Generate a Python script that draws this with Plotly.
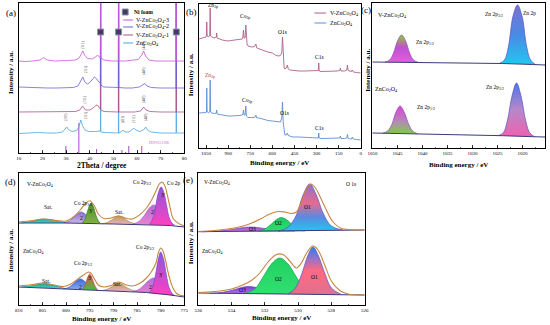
import plotly.graph_objects as go

W, H = 550, 325
FONT = "Liberation Serif"

# ======================= (a) XRD =======================
a_x_v3 = [10, 13, 16, 19, 20.5, 22, 25, 28, 31, 34, 35.5, 36.5, 37.1, 37.8, 39, 41, 42.5, 43.3, 44.0, 44.52, 44.6, 44.68, 46, 49, 52.12, 52.2, 52.28, 55, 58, 60.5, 62, 62.8, 63.6, 65, 68, 72, 76.52, 76.6, 76.68, 78, 80]
a_y_v3 = [92, 91.5, 92, 93, 95.5, 93, 92, 92, 92.5, 93, 95, 99, 102, 98, 94.5, 94, 96, 98, 96, 95, 260, 95, 93, 92, 92, 260, 92, 92, 92.5, 93.5, 98, 102, 97, 93, 92, 92, 92, 260, 92, 92, 92]
a_x_v2 = [10, 14, 18, 22, 26, 30, 33, 35, 36.3, 37.1, 37.9, 39, 40, 41, 42, 43, 43.8, 44.52, 44.6, 44.68, 46, 49, 52.12, 52.2, 52.28, 55, 58, 61, 62.5, 63.3, 64.2, 66, 70, 74, 76.52, 76.6, 76.68, 80]
a_y_v2 = [66, 65.5, 65, 65, 65, 65, 65.5, 67, 72, 76, 71, 69, 70.5, 73, 76, 74, 71, 70, 260, 68, 66, 65.5, 65.5, 260, 65.5, 65, 65, 66, 68.5, 69.5, 67, 65.5, 65, 65, 65, 260, 65, 65]
a_x_v1 = [10, 15, 20, 25, 30, 34, 35.8, 37.0, 38.2, 40, 41.5, 42.5, 43.2, 44.0, 44.52, 44.6, 44.68, 46, 49, 52.12, 52.2, 52.28, 55, 59, 61.5, 62.8, 63.8, 65.5, 70, 76.52, 76.6, 76.68, 80]
a_y_v1 = [41, 41, 41, 41, 41, 41.5, 43, 47, 43, 43, 45, 47.5, 48, 45, 44, 260, 43, 41.5, 41, 41, 260, 41, 41, 41, 42, 46, 43, 41.5, 41, 41, 260, 41, 41]
a_x_z = [10, 14, 18, 22, 26, 28.5, 29.6, 30.3, 31, 32.5, 34.5, 35.4, 36.2, 37.0, 38, 39.5, 42, 44.0, 44.52, 44.6, 44.68, 46, 49, 52.12, 52.2, 52.28, 53.2, 54, 54.8, 56.5, 57.8, 58.6, 59.4, 61, 62.7, 63.7, 64.6, 66, 70, 74, 76.52, 76.6, 76.68, 80]
a_y_z = [19.5, 20, 20.5, 20, 20, 21, 24, 26, 23.5, 21.5, 22.5, 26, 33, 27, 23, 21.5, 21.5, 22, 22, 260, 21, 20.5, 20, 20, 260, 20, 21, 23, 21, 21, 23, 25, 23, 21.5, 23, 26, 22.5, 21, 20, 20, 20, 260, 20, 20]
a_pdf_pos = [29.9, 35.4, 42.9, 53.6, 56.5, 62.0]
a_pdf_h = [7, 30, 4, 3, 7, 7]
a_ni_pos = [44.6, 52.2, 76.6]
a_ni_y = [121, 121, 121]
a_hkl_text = ["(311)", "(440)", "(311)", "(440)", "(311)", "(440)", "(220)", "(311)", "(422)", "(511)", "(440)"]
a_hkl_x = [37.1, 62.8, 38.5, 63.0, 38.2, 63.0, 30.0, 38.5, 54.2, 58.6, 63.9]
a_hkl_y = [108, 107, 84, 82, 54, 54, 36, 38, 34, 34, 36]
a_xticks = [10, 20, 30, 40, 50, 60, 70, 80]

# ======================= (b) survey =======================
b_x = [1100, 1080, 1060, 1050, 1047, 1045, 1043, 1035, 1025, 1022, 1019, 1010, 995, 980, 978, 975, 960, 940, 920, 900, 880, 860, 840, 820, 805, 800, 796, 792, 785, 780, 776, 772, 765, 740, 720, 712, 705, 690, 670, 650, 630, 600, 580, 560, 545, 536, 531, 526, 520, 515, 505, 498, 492, 480, 460, 420, 380, 340, 300, 288, 285, 282, 270, 240, 200, 160, 142, 138, 134, 110, 95, 90, 86, 70, 62, 58, 50, 30, 15, 0]
b_y_v = [109, 109.5, 110, 111, 113, 126, 113, 111, 112, 140, 112, 111, 110, 111, 115, 110, 109, 108, 107.5, 107, 107.5, 108, 108, 109, 109, 111, 118, 110, 110, 123, 108, 104, 102, 101, 101.5, 104, 100, 99, 98, 97, 96, 95, 93, 92, 92.5, 95, 111, 92, 80, 79, 80, 83, 79, 78, 77.5, 77, 77, 77, 77, 77.5, 85, 77, 76.5, 76.5, 76.5, 77, 77.5, 80, 77, 77, 78, 83, 77.5, 76.5, 76.5, 78, 76, 75.5, 75, 75]
b_y_z = [35, 35, 35, 35.5, 37, 60, 37, 35, 36, 68, 36, 35, 34.5, 35, 38, 34, 33.5, 33, 32.5, 32, 32, 32, 32, 32.5, 33, 34, 38, 33, 33, 42, 32, 31, 30.5, 30.5, 30.5, 33, 30, 30, 29, 28, 27.5, 27, 26.5, 26, 26, 30, 46, 25, 14, 13, 13, 15, 12.5, 12, 11, 11, 10.5, 10, 10, 10, 15, 10, 9.5, 9.5, 9.5, 9.5, 10, 12, 9.5, 9.5, 10, 13.5, 9.5, 9, 9, 11, 9, 8.5, 8, 8]
b_xticks = [1050, 900, 750, 600, 450, 300, 150, 0]

# ======================= (c) Zn 2p =======================
c_t_base_x = [1050, 1040, 1030, 1024, 1018, 1015.5]
c_t_base_y = [86, 85.6, 85, 84.5, 83.5, 83]
c_t_p1_x = [1047.6, 1046.6, 1045.8, 1045.1, 1044.2, 1043.3, 1042.6, 1041.8, 1040.8]
c_t_p1_y = [85.8, 88, 95, 106, 113, 106, 95, 88, 85.6]
c_t_p3_x = [1024.6, 1023.6, 1022.8, 1021.9, 1021.0, 1020.1, 1019.2, 1018.4, 1017.4]
c_t_p3_y = [84.7, 88, 102, 132, 143, 132, 102, 88, 83.4]
c_b_base_x = [1050, 1040, 1030, 1024, 1018, 1015.5]
c_b_base_y = [15, 14.2, 13.2, 12.3, 11.3, 11]
c_b_p1_x = [1048, 1047, 1046.1, 1045.4, 1044.5, 1043.6, 1042.8, 1042, 1041]
c_b_p1_y = [14.8, 17, 24, 35, 42, 35, 24, 17, 14.2]
c_b_p3_x = [1024.8, 1023.8, 1023, 1022.1, 1021.2, 1020.3, 1019.4, 1018.6, 1017.6]
c_b_p3_y = [12.4, 15.5, 28, 52, 65, 52, 28, 15.5, 11.3]
c_xticks = [1050, 1045, 1040, 1035, 1030, 1025, 1020]

# ======================= (d) Co 2p =======================
d_t_base_x = [810, 800, 790, 783, 778, 775]
d_t_base_y = [82, 82, 81, 80.5, 79.5, 78]
d_t_sat1_x = [809.5, 807.5, 806, 804.5, 803, 801.5, 799.5]
d_t_sat1_y = [82, 83.5, 85.2, 86, 85.2, 83.5, 82]
d_t_co2a_x = [800.5, 799.3, 798.3, 797.5, 796.8, 796.1, 795.3, 794.3, 793]
d_t_co2a_y = [82, 84, 88, 91.5, 93, 91.5, 88, 84, 81.8]
d_t_co3a_x = [796.6, 796.0, 795.5, 795.1, 794.7, 794.3, 793.9, 793.4, 792.8]
d_t_co3a_y = [81.8, 86, 93, 99, 102, 99, 93, 86, 81.8]
d_t_sat2_x = [792.5, 791.3, 790.2, 789.5, 788.8, 788.1, 787.4, 786.3, 785]
d_t_sat2_y = [81, 82.5, 85.5, 88, 89, 88, 85.5, 82.5, 81]
d_t_co2b_x = [786, 784.6, 783.4, 782.4, 781.5, 780.6, 779.6, 778.4, 777]
d_t_co2b_y = [80.8, 83.5, 90, 97, 100, 97, 90, 83.5, 79.8]
d_t_co3b_x = [782.4, 781.7, 781.1, 780.5, 779.9, 779.3, 778.7, 778.1, 777.3]
d_t_co3b_y = [80.3, 86, 98, 112, 118, 112, 98, 86, 79.8]
d_t_env_x = [810, 807, 805, 802, 800, 798.5, 797, 796, 795, 794, 793.2, 792, 790.5, 789, 787.5, 786, 784.5, 783, 781.8, 781, 780.3, 779.8, 779.2, 778.6, 778, 777.3, 776, 775]
d_t_env_y = [83, 84.5, 86, 84.5, 84, 88, 95, 101, 104.3, 99, 91, 86.5, 87, 89, 87, 86, 90, 97, 106, 114, 121, 123, 120, 110, 97, 86, 81, 79]

d_b_base_x = [810, 800, 790, 783, 778, 775]
d_b_base_y = [18, 16, 14, 12.5, 10, 8]
d_b_sat1_x = [809.5, 807.5, 806, 804.8, 803.5, 802, 800]
d_b_sat1_y = [17.9, 19.2, 20.8, 21.5, 20.8, 19, 16.2]
d_b_co2a_x = [800.6, 799.5, 798.5, 797.7, 797, 796.3, 795.5, 794.5, 793.3]
d_b_co2a_y = [16, 17.5, 21, 24.5, 26, 24.5, 21, 17.5, 15]
d_b_co3a_x = [796.6, 796.1, 795.7, 795.3, 795, 794.7, 794.3, 793.9, 793.4]
d_b_co3a_y = [15.5, 19, 24, 29, 31, 29, 24, 19, 15]
d_b_sat2_x = [792.5, 791.3, 790.3, 789.6, 789, 788.3, 787.5, 786.5, 785.2]
d_b_sat2_y = [14.3, 15.8, 18.5, 21, 22, 21, 18.5, 15.8, 13.6]
d_b_co2b_x = [786, 784.6, 783.4, 782.4, 781.5, 780.6, 779.6, 778.4, 777]
d_b_co2b_y = [13.4, 15.5, 20.5, 25, 27, 25, 20.5, 14.5, 9.5]
d_b_co3b_x = [782.4, 781.7, 781.1, 780.5, 780, 779.4, 778.8, 778.2, 777.4]
d_b_co3b_y = [12.2, 18, 30, 46, 53, 46, 30, 17, 9.4]
d_b_env_x = [810, 807, 805, 802.5, 800.5, 799, 797.5, 796.3, 795.2, 794.6, 794, 793.2, 792, 790.5, 789, 787.5, 786, 784.5, 783, 782, 781, 780.5, 780, 779.5, 779, 778.3, 777.5, 776.5, 775]
d_b_env_y = [19, 20.5, 22, 20, 18.5, 21, 26, 30, 33, 31, 26, 20, 18, 19.5, 23, 20.5, 19, 21.5, 27, 33, 42, 52, 57, 54, 45, 30, 18, 11, 9]
d_xticks = [810, 805, 800, 795, 790, 785, 780, 775]

# ======================= (e) O 1s =======================
e_t_base_x = [536, 526]
e_t_base_y = [73.3, 75]
e_t_o3_x = [535.8, 534.8, 534, 533.4, 532.9, 532.3, 531.7, 531, 530.2]
e_t_o3_y = [73.2, 74, 75.5, 77.2, 78, 77.2, 75.5, 74.3, 73.8]
e_t_o2_x = [532.4, 532, 531.6, 531.3, 531.0, 530.7, 530.4, 530, 529.6]
e_t_o2_y = [73.6, 76, 81, 85.5, 87.5, 85.5, 81, 76, 73.8]
e_t_o1_x = [531.2, 530.6, 530.1, 529.7, 529.3, 528.9, 528.5, 528, 527.3]
e_t_o1_y = [73.6, 78, 90, 110, 121, 110, 92, 79, 74.8]
e_t_env_x = [536, 535, 534, 533.3, 532.7, 532.2, 531.7, 531.2, 530.8, 530.4, 530.1, 529.8, 529.5, 529.25, 529, 528.7, 528.3, 527.9, 527.4, 527, 526]
e_t_env_y = [73.5, 74.5, 76.5, 79, 82.5, 86.5, 91, 93.5, 93, 91.5, 93, 103, 116, 121, 118, 109, 95, 83, 76.5, 75.5, 75]

e_b_base_x = [536, 526]
e_b_base_y = [12, 10]
e_b_o3_x = [535.3, 534.5, 533.9, 533.4, 533, 532.5, 532, 531.5, 530.8]
e_b_o3_y = [11.5, 12.8, 15, 17.5, 18.5, 17.5, 15, 13, 11.3]
e_b_o2_x = [533.2, 532.6, 532.1, 531.6, 531.1, 530.6, 530.1, 529.6, 529]
e_b_o2_y = [11.4, 16, 28, 41, 47, 41, 28, 16, 11]
e_b_o1_x = [530.6, 530.2, 529.8, 529.4, 529.1, 528.8, 528.4, 528, 527.4]
e_b_o1_y = [11.1, 16, 30, 50, 58, 50, 32, 17, 10.5]
e_b_env_x = [536, 535, 534, 533.4, 532.8, 532.3, 531.8, 531.3, 530.9, 530.5, 530.1, 529.8, 529.45, 529.1, 528.8, 528.4, 528, 527.5, 527, 526]
e_b_env_y = [12.5, 13.5, 16, 19.5, 24.5, 32, 43, 50.5, 50.5, 44, 37, 42, 53, 59, 55, 40, 24, 14.5, 11, 10]
e_xticks = [536, 534, 532, 530, 528, 526]

# ======================= figure =======================
AX = {"a": "", "b": "2", "c": "3", "d": "4", "e": "5"}
fig = go.Figure()


def line(x, y, p, color, width=0.9, shape="linear"):
    fig.add_trace(go.Scatter(x=x, y=y, xaxis="x" + AX[p], yaxis="y" + AX[p], mode="lines",
                             line=dict(color=color, width=width, shape=shape, smoothing=1),
                             hoverinfo="skip", showlegend=False))


def filled(x, y, p, scale, color):
    fig.add_trace(go.Scatter(x=x, y=y, xaxis="x" + AX[p], yaxis="y" + AX[p], mode="lines",
                             fill="toself", fillgradient=dict(type="vertical", colorscale=scale),
                             line=dict(color=color, width=0.7, shape="spline", smoothing=1),
                             hoverinfo="skip", showlegend=False))


# (a)
C_V3, C_V2, C_V1, C_Z = "#c458d6", "#6b62d8", "#b0508e", "#4ba3e3"
sx, sy = [], []
for p, h in zip(a_pdf_pos, a_pdf_h):
    sx += [p, p, None]
    sy += [0, h, None]
line(sx, sy, "a", "#9b35c8", 0.9)
line(a_x_z, a_y_z, "a", C_Z, 0.8)
line(a_x_v1, a_y_v1, "a", C_V1, 0.8)
line(a_x_v2, a_y_v2, "a", C_V2, 0.8)
line(a_x_v3, a_y_v3, "a", C_V3, 0.8)
fig.add_trace(go.Scatter(x=a_ni_pos, y=a_ni_y, mode="markers", xaxis="x", yaxis="y",
                         marker=dict(symbol="square", size=6, color="#3e3e5e",
                                     line=dict(color="#9090b0", width=1)),
                         hoverinfo="skip", showlegend=False))

# (b)
line(b_x, b_y_z, "b", "#5b8fd6")
line(b_x, b_y_v, "b", "#b0608a")

# (c)
NAVY = "#3a3a78"
filled(c_t_p1_x, c_t_p1_y, "c", [[0, "#e060e0"], [0.55, "#c050d0"], [1, "#8fcc2a"]], "#8a4ab8")
filled(c_t_p3_x, c_t_p3_y, "c", [[0, "#20c8f0"], [0.5, "#4a8ae6"], [1, "#8070d0"]], "#5a50c0")
line(c_t_base_x, c_t_base_y, "c", NAVY, 1.0)
filled(c_b_p1_x, c_b_p1_y, "c", [[0, "#7ccc44"], [0.4, "#b090b0"], [1, "#e040e0"]], "#8a4ab8")
filled(c_b_p3_x, c_b_p3_y, "c", [[0, "#f060b0"], [0.5, "#b888c8"], [1, "#4a78e8"]], "#5a50c0")
line(c_b_base_x, c_b_base_y, "c", NAVY, 1.0)

# (d)
ENV = "#c8843e"
g = globals()
for pre in ("t", "b"):
    filled(g[f"d_{pre}_sat1_x"], g[f"d_{pre}_sat1_y"], "d", [[0, "#30e0e0"], [1, "#3a9a70"]], "#3a9a80")
    filled(g[f"d_{pre}_sat2_x"], g[f"d_{pre}_sat2_y"], "d", [[0, "#e8b0c8"], [1, "#b8a050"]], "#a89050")
    filled(g[f"d_{pre}_co2b_x"], g[f"d_{pre}_co2b_y"], "d", [[0, "#f080d0"], [1, "#b070d8"]], "#a060c0")
    filled(g[f"d_{pre}_co3b_x"], g[f"d_{pre}_co3b_y"], "d", [[0, "#ff40c0"], [1, "#8a58e0"]], "#7a48c8")
filled(d_t_co2a_x, d_t_co2a_y, "d", [[0, "#c8b8e8"], [1, "#8a70d0"]], "#6a58c0")
filled(d_t_co3a_x, d_t_co3a_y, "d", [[0, "#80b040"], [1, "#4a9030"]], "#3a7a28")
filled(d_b_co2a_x, d_b_co2a_y, "d", [[0, "#8ab0f0"], [1, "#3a68e0"]], "#3050c0")
filled(d_b_co3a_x, d_b_co3a_y, "d", [[0, "#40c040"], [1, "#e85050"]], "#c04040")
line(d_t_base_x, d_t_base_y, "d", NAVY, 1.0)
line(d_b_base_x, d_b_base_y, "d", NAVY, 1.0)
line(d_t_env_x, d_t_env_y, "d", ENV, 1.1, "spline")
line(d_b_env_x, d_b_env_y, "d", ENV, 1.1, "spline")

# (e)
filled(e_t_o3_x, e_t_o3_y, "e", [[0, "#e070d0"], [1, "#8a5ad0"]], "#7a4ac0")
filled(e_t_o2_x, e_t_o2_y, "e", [[0, "#2ae070"], [1, "#20c860"]], "#18a050")
filled(e_t_o1_x, e_t_o1_y, "e", [[0, "#20c8f0"], [0.3, "#5a8ae0"], [0.6, "#e86a90"], [1, "#8a74c8"]], "#5a50c0")
filled(e_b_o3_x, e_b_o3_y, "e", [[0, "#b070e0"], [1, "#7a40d8"]], "#6a38c0")
filled(e_b_o2_x, e_b_o2_y, "e", [[0, "#30e070"], [1, "#20d060"]], "#18a050")
filled(e_b_o1_x, e_b_o1_y, "e", [[0, "#e07090"], [0.5, "#ff6a80"], [0.75, "#9a70c8"], [1, "#2a80f0"]], "#5a50c0")
line(e_t_base_x, e_t_base_y, "e", NAVY, 1.0)
line(e_b_base_x, e_b_base_y, "e", NAVY, 1.0)
line(e_t_env_x, e_t_env_y, "e", ENV, 1.1, "spline")
line(e_b_env_x, e_b_env_y, "e", ENV, 1.1, "spline")


# ---------- axes ----------
def xcfg(px0, px1, rng, ticks, minor, anchor):
    return dict(domain=[px0 / W, px1 / W], range=rng, anchor=anchor, tickmode="array", tickvals=ticks,
                ticks="inside", ticklen=3, tickwidth=0.8, tickcolor="black",
                minor=dict(ticks="inside", ticklen=1.5, tickwidth=0.6, tickcolor="black", dtick=minor, tick0=0),
                showline=True, linecolor="black", linewidth=1, mirror=True, showgrid=False,
                zeroline=False, tickfont=dict(family=FONT, size=5, color="black"))


def ycfg(py0, py1, rng, anchor):
    return dict(domain=[1 - py1 / H, 1 - py0 / H], range=rng, anchor=anchor, showticklabels=False,
                ticks="", showline=True, linecolor="black", linewidth=1, mirror=True,
                showgrid=False, zeroline=False)


fig.update_layout(
    width=W, height=H, margin=dict(l=0, r=0, t=0, b=0),
    paper_bgcolor="white", plot_bgcolor="white",
    xaxis=xcfg(15, 183, [10, 80], a_xticks, 5, "y"),
    yaxis=ycfg(3, 153, [0, 150], "x"),
    xaxis2=xcfg(198, 362, [1097, 0], b_xticks, 75, "y2"),
    yaxis2=ycfg(4, 148, [0, 144], "x2"),
    xaxis3=xcfg(373, 549, [1050.2, 1015.5], c_xticks, 2.5, "y3"),
    yaxis3=ycfg(3, 148, [0, 145], "x3"),
    xaxis4=xcfg(15, 183, [810, 775], d_xticks, 2.5, "y4"),
    yaxis4=ycfg(173, 305, [0, 132], "x4"),
    xaxis5=xcfg(197, 366, [536, 526], e_xticks, 1, "y5"),
    yaxis5=ycfg(173, 305, [0, 132], "x5"),
)

anns = []


def ann(text, px, py, size=5.5, color="black", xa="center", angle=0):
    anns.append(dict(text=text, x=px / W, y=1 - py / H, xref="paper", yref="paper", showarrow=False,
                     font=dict(family=FONT, size=size, color=color), xanchor=xa, yanchor="middle",
                     textangle=angle, borderpad=0))


# hkl labels (vertical, in data coordinates of panel a)
for t, xv, yv in zip(a_hkl_text, a_hkl_x, a_hkl_y):
    anns.append(dict(text=t, x=xv, y=yv, xref="x", yref="y", showarrow=False, textangle=-90,
                     font=dict(family=FONT, size=3.5, color="#555"), borderpad=0))

SUB = "ZnCo<sub>2</sub>O<sub>4</sub>"
# panel letters
for t, px, py in [("(a)", 7, 13), ("(b)", 190, 12), ("(c)", 367, 10), ("(d)", 7, 182), ("(e)", 187, 180)]:
    ann(t, px, py, 9)
# axis titles
ann("<b>2Theta / degree</b>", 99, 165, 7.5)
ann("<b>Binding energy / eV</b>", 280, 163, 7)
ann("<b>Binding energy / eV</b>", 461, 165, 7)
ann("<b>Binding energy / eV</b>", 99, 319, 7)
ann("<b>Binding energy / eV</b>", 282, 318, 7)
for px, py in [(7, 72), (190, 75), (369, 70), (7, 250), (190, 243)]:
    ann("<b>Intensity / a.u.</b>", px, py, 7, angle=-90)

# (a) legend
ann("<b>Ni foam</b>", 131, 12, 5.5, xa="left")
leg_a = [("V-" + SUB + "-3", C_V3, 20), ("V-" + SUB + "-2", C_V2, 27), ("V-" + SUB + "-1", C_V1, 35), (SUB, C_Z, 43)]
shapes = [dict(type="rect", xref="paper", yref="paper", x0=120 / W, x1=126 / W, y0=1 - 15 / H, y1=1 - 9 / H,
               fillcolor="#3e3e5e", line=dict(color="#9090b0", width=1))]
for t, c, py in leg_a:
    ann(t, 133, py, 6, xa="left")
    shapes.append(dict(type="line", xref="paper", yref="paper", x0=121 / W, x1=131 / W, y0=1 - py / H,
                       y1=1 - py / H, line=dict(color=c, width=1)))
ann("PDF#23-1390", 157, 143, 3.5, color="#d060c0")

# (b) labels & legend
for t, px, py, c in [("Zn<sub>2p</sub>", 212, 6, "black"), ("Co<sub>2p</sub>", 245, 17, "black"),
                     ("O1s", 283, 32, "black"), ("C1s", 320, 57, "black"),
                     ("Zn<sub>2p</sub>", 209, 76, "#c03838"), ("Co<sub>2p</sub>", 247, 100, "black"),
                     ("O1s", 285, 113, "black"), ("C1s", 320, 128, "black")]:
    ann(t, px, py, 5.5, color=c)
for t, c, py in [("V-" + SUB, "#b0608a", 13), (SUB, "#5b8fd6", 23)]:
    ann(t, 330, py, 6, xa="left")
    shapes.append(dict(type="line", xref="paper", yref="paper", x0=315 / W, x1=327 / W, y0=1 - py / H,
                       y1=1 - py / H, line=dict(color=c, width=1)))

# (c) labels
ann("V-" + SUB, 378, 15, 6, xa="left")
ann("Zn 2p<sub>1/2</sub>", 417, 42, 5.5, xa="left")
ann("Zn 2p<sub>3/2</sub>", 497, 14, 5.5)
ann("Zn 2p", 533, 13, 5.5)
ann(SUB, 375, 89, 6, xa="left")
ann("Zn 2p<sub>1/2</sub>", 418, 107, 5.5, xa="left")
ann("Zn 2p<sub>3/2</sub>", 498, 87, 5.5)

# (d) labels
ann("V-" + SUB, 22, 184, 5.5, xa="left")
ann(SUB, 18, 251, 5.5, xa="left")
for t, px, py in [("Sat.", 45, 207), ("Co 2p<sub>1/2</sub>", 80, 203),
                  ("3<sup>+</sup>", 89, 211), ("2<sup>+</sup>", 80, 218), ("Sat.", 117, 212),
                  ("Co 2p<sub>3/2</sub>", 140, 183), ("Co 2p", 173, 183), ("3<sup>+</sup>", 162, 195),
                  ("2<sup>+</sup>", 152, 212),
                  ("Sat.", 43, 281), ("Co 2p<sub>1/2</sub>", 80, 263),
                  ("2<sup>+</sup>", 79, 287), ("3<sup>+</sup>", 88, 278), ("Sat.", 115, 284),
                  ("Co 2p<sub>3/2</sub>", 143, 247), ("3<sup>+</sup>", 160, 275), ("2<sup>+</sup>", 150, 287)]:
    ann(t, px, py, 5.5)

# (e) labels
ann("V-" + SUB, 202, 183, 5.5, xa="left")
ann(SUB, 200, 251, 5.5, xa="left")
for t, px, py in [("O 1s", 352, 184), ("O1", 308, 207), ("O2", 279, 223),
                  ("O3", 252, 229), ("O1", 315, 277), ("O2", 279, 279), ("O3", 242, 290)]:
    ann(t, px, py, 5.5)

fig.update_layout(annotations=anns, shapes=shapes)
fig.write_html("out.html", config={"displayModeBar": False, "staticPlot": True},
               post_script="document.body.style.margin='0';document.body.style.overflow='hidden';")
